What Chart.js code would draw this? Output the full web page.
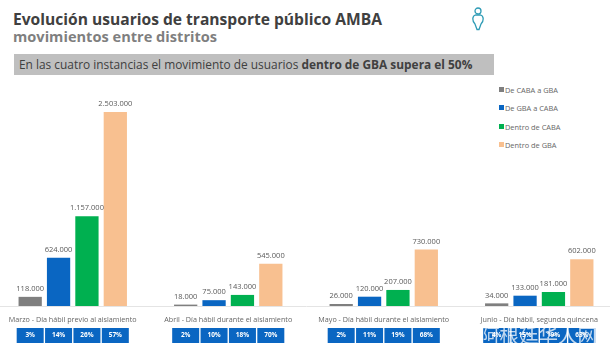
<!DOCTYPE html>
<html>
<head>
<meta charset="utf-8">
<script src="https://cdn.jsdelivr.net/npm/chart.js@4"></script>
<style>
  html, body { margin: 0; padding: 0; background: #fff; }
  body { width: 610px; height: 355px; position: relative; overflow: hidden; font-family: "Open Sans", sans-serif; }
  #title { position: absolute; left: 13px; top: 8px; font-size: 15.6px; line-height: 22px; font-weight: 700; color: #404040; white-space: nowrap; }
  #subtitle { position: absolute; left: 13px; top: 26px; font-size: 14.6px; line-height: 20px; font-weight: 700; color: #7f7f7f; white-space: nowrap; }
  #banner { position: absolute; left: 14px; top: 54px; width: 480px; height: 21px; background: #bfbfbf; color: #404040; font-size: 11.9px; line-height: 21px; padding-left: 5px; box-sizing: border-box; white-space: nowrap; }
  #icon { position: absolute; left: 471px; top: 7px; }
  #legend { position: absolute; left: 499px; top: 84px; font-size: 7.4px; color: #666; }
  #legend div { position: relative; height: 18.4px; line-height: 12px; padding-left: 6px; white-space: nowrap; }
  #legend i { position: absolute; left: 0; top: 3px; width: 5px; height: 5px; }
  #wrap { position: absolute; left: -5px; top: 0; width: 622px; height: 355px; }
  #watermark { position: absolute; left: 480px; top: 321px; font-size: 19.5px; line-height: 28px; color: rgba(255,255,255,.75); font-family: "Noto Sans CJK SC"; white-space: nowrap; }
</style>
</head>
<body>
<div id="title">Evolución usuarios de transporte público AMBA</div>
<div id="subtitle">movimientos entre distritos</div>
<div id="banner">En las cuatro instancias el movimiento de usuarios <b>dentro de GBA supera el 50%</b></div>
<svg id="icon" width="14" height="24" viewBox="0 0 14 24" fill="none" stroke="#2e9bb5" stroke-width="1.3">
  <circle cx="7" cy="4" r="3"/>
  <path d="M4.5 8 C1 9 1 14 4 17 L6 22.5 L8 22.5 L10 17 C13 14 13 9 9.5 8 Z"/>
</svg>
<div id="legend"></div>
<div id="wrap"><canvas id="chart" width="622" height="355"></canvas></div>
<div id="watermark">阿根廷华人网</div>
<script>
const categories = [
  "Marzo - Día hábil previo al aislamiento",
  "Abril - Día hábil durante el aislamiento",
  "Mayo - Día hábil durante el aislamiento",
  "Junio - Día hábil, segunda quincena"
];
const deCabaAGba = [118000, 18000, 26000, 34000];
const deGbaACaba = [624000, 75000, 120000, 133000];
const dentroCaba = [1157000, 143000, 207000, 181000];
const dentroGba = [2503000, 545000, 730000, 602000];
const pctCabaAGba = ["3%", "2%", "2%", "4%"];
const pctGbaACaba = ["14%", "10%", "11%", "15%"];
const pctDentroCaba = ["26%", "18%", "19%", "19%"];
const pctDentroGba = ["57%", "70%", "68%", "63%"];
const seriesNames = ["De CABA a GBA", "De GBA a CABA", "Dentro de CABA", "Dentro de GBA"];
const seriesColors = ["#7f7f7f", "#0a66c2", "#00b050", "#f8c090"];

const seriesValues = [deCabaAGba, deGbaACaba, dentroCaba, dentroGba];
const seriesPcts = [pctCabaAGba, pctGbaACaba, pctDentroCaba, pctDentroGba];

const legend = document.getElementById("legend");
seriesNames.forEach((name, i) => {
  const row = document.createElement("div");
  row.innerHTML = `<i style="background:${seriesColors[i]}"></i>${name}`;
  legend.appendChild(row);
});

// value labels over the bars and percent boxes under the axis
const extras = {
  id: "extras",
  afterDatasetsDraw(chart) {
    const ctx = chart.ctx;
    ctx.save();
    ctx.textAlign = "center";
    ctx.textBaseline = "middle";
    chart.data.datasets.forEach((ds, i) => {
      chart.getDatasetMeta(i).data.forEach((bar, j) => {
        ctx.fillStyle = "#595959";
        ctx.font = '7.5px "Open Sans"';
        ctx.fillText(ds.data[j].toLocaleString("de-DE"), bar.x, bar.y - 8);
        ctx.fillStyle = "#0a66c2";
        ctx.fillRect(bar.x - 13.5, 328, 27, 15);
        ctx.fillStyle = "#fff";
        ctx.font = 'bold 6.5px "Open Sans"';
        ctx.fillText(seriesPcts[i][j], bar.x, 335.5);
      });
    });
    ctx.restore();
  }
};

new Chart(document.getElementById("chart"), {
  type: "bar",
  data: {
    labels: categories,
    datasets: seriesNames.map((name, i) => ({
      label: name,
      data: seriesValues[i],
      backgroundColor: seriesColors[i],
      categoryPercentage: 0.73,
      barPercentage: 0.82
    }))
  },
  options: {
    responsive: false,
    animation: false,
    layout: { padding: 0 },
    plugins: { legend: { display: false }, tooltip: { enabled: false } },
    scales: {
      x: {
        grid: { display: false },
        border: { color: "#e4e4e4" },
        ticks: { color: "#666", font: { family: "Open Sans", size: 7.2 }, maxRotation: 0, autoSkip: false, padding: 2 },
        afterFit(axis) { axis.height = 49; }
      },
      y: {
        display: false,
        min: 0,
        max: 3948000
      }
    }
  },
  plugins: [extras]
});
</script>
</body>
</html>
